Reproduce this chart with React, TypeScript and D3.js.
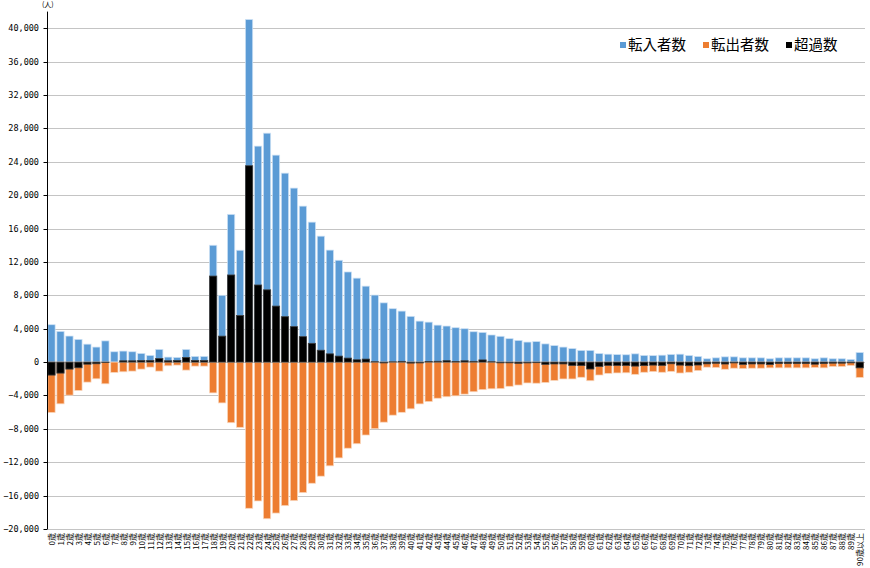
import React from "react";
import * as d3 from "d3";

const ages: string[] = [
  ...Array.from({ length: 90 }, (_, i) => `${i}歳`),
  "90歳以上",
];

const inflow: number[] = [
  4480, 3680, 3120, 2720, 2150, 1800, 2540, 1240, 1320, 1240,
  1040, 800, 1520, 600, 560, 1520, 680, 680, 14000, 8000,
  17700, 13400, 41050, 25880, 27430, 24800, 22640, 20850, 18690, 16770,
  15090, 13420, 12200, 10800, 10060, 9100, 8030, 7100, 6400, 6110,
  5480, 4910, 4790, 4430, 4320, 4120, 4000, 3640, 3560, 3250,
  3090, 2810, 2600, 2400, 2460, 2180, 1980, 1800, 1620, 1400,
  1400, 1030, 950, 900, 880, 990, 800, 780, 830, 920,
  950, 790, 670, 400, 510, 630, 630, 510, 510, 510,
  400, 510, 510, 510, 510, 400, 510, 400, 400, 320,
  1150,
];

const outflow: number[] = [
  -6040, -5000, -3960, -3400, -2400, -2000, -2600, -1240, -1160, -1080,
  -840, -600, -1080, -440, -360, -960, -480, -480, -3690, -4890,
  -7260, -7820, -17520, -16640, -18770, -18090, -17200, -16600, -15640, -14520,
  -13670, -12430, -11480, -10320, -9780, -8740, -7980, -7200, -6360, -6020,
  -5600, -5010, -4730, -4330, -4150, -4040, -3840, -3550, -3300, -3200,
  -3180, -2900, -2750, -2500, -2530, -2450, -2200, -2020, -2020, -1820,
  -2230, -1550, -1350, -1300, -1280, -1470, -1220, -1140, -1220, -1120,
  -1310, -1220, -1020, -610, -650, -860, -730, -780, -730, -730,
  -690, -690, -690, -690, -690, -650, -690, -530, -530, -410,
  -1840,
];

const net: number[] = [
  -1560, -1320, -840, -680, -250, -200, -60, 0, 160, 160,
  200, 200, 440, 160, 200, 560, 200, 200, 10310, 3110,
  10440, 5580, 23530, 9240, 8660, 6710, 5440, 4250, 3050, 2250,
  1420, 990, 720, 480, 280, 360, 50, -100, 40, 90,
  -120, -100, 60, 100, 170, 80, 160, 90, 260, 50,
  -90, -90, -150, -100, -70, -270, -220, -220, -400, -420,
  -830, -520, -400, -400, -400, -480, -420, -360, -390, -200,
  -360, -430, -350, -210, -140, -230, -100, -270, -220, -220,
  -290, -180, -180, -180, -180, -250, -180, -130, -130, -90,
  -690,
];

const yTicks: number[] = [
  -20000, -16000, -12000, -8000, -4000, 0, 4000, 8000, 12000, 16000,
  20000, 24000, 28000, 32000, 36000, 40000,
];

const seriesNames = ["転入者数", "転出者数", "超過数"];
const seriesColors = ["#5B9BD5", "#ED7D31", "#000000"];

const W = 870;
const H = 568;

export default function App() {
  const x = d3
    .scaleBand<string>()
    .domain(ages)
    .range([47, 864.2])
    .paddingInner(0.19)
    .paddingOuter(0.095);
  const y = d3.scaleLinear().domain([-20000, 42000]).range([529, 11.6]);
  const fmt = d3.format(",");
  const axisX = 47.5;
  const gridRight = 865;
  const bw = x.bandwidth();

  const bar = (vals: number[], color: string, stroke: string) =>
    vals.map((v, i) => {
      const y0 = y(0);
      const y1 = y(v);
      const top = Math.min(y0, y1);
      const h = Math.abs(y1 - y0);
      if (h < 0.01) return null;
      return (
        <rect
          key={i}
          x={x(ages[i])!}
          y={top}
          width={bw}
          height={h}
          fill={color}
          stroke={stroke}
          strokeWidth={0.8}
        />
      );
    });

  const legendX = [620, 703, 786];

  return (
    <svg
      width={W}
      height={H}
      style={{ position: "absolute", left: 0, top: 0, background: "#fff" }}
      fontFamily="'Noto Sans CJK JP', 'Noto Sans', sans-serif"
    >
      <rect x={0} y={0} width={W} height={H} fill="#fff" />
      {yTicks.map((t) => (
        <line
          key={t}
          x1={axisX}
          x2={gridRight}
          y1={Math.round(y(t)) + 0.5}
          y2={Math.round(y(t)) + 0.5}
          stroke="#c4c4c4"
          strokeWidth={1}
        />
      ))}
      <g>{bar(inflow, seriesColors[0], "rgba(205,225,245,0.9)")}</g>
      <g>{bar(outflow, seriesColors[1], "rgba(250,215,190,0.9)")}</g>
      <g>{bar(net, seriesColors[2], "#404040")}</g>
      <line x1={axisX} x2={axisX} y1={y(42000)} y2={y(-20000)} stroke="#000" strokeWidth={1} />
      {yTicks.map((t) => (
        <g key={"t" + t}>
          <line
            x1={axisX - 4}
            x2={axisX}
            y1={Math.round(y(t)) + 0.5}
            y2={Math.round(y(t)) + 0.5}
            stroke="#000"
          />
          <text
            x={39}
            y={y(t)}
            dy="0.35em"
            textAnchor="end"
            fontSize={8.5}
            fontFamily="'DejaVu Sans Mono', monospace"
            fill="#000"
          >
            {fmt(t)}
          </text>
        </g>
      ))}
      <text x={42} y={7} fontSize={7} fill="#000">
        (人)
      </text>
      {ages.map((a) => {
        const cx = x(a)! + bw / 2;
        return (
          <text
            key={a}
            transform={`translate(${cx},533) rotate(-90)`}
            textAnchor="end"
            dominantBaseline="central"
            fontSize={8}
            fill="#000"
          >
            {a}
          </text>
        );
      })}
      <g>
        {seriesNames.map((n, i) => (
          <g key={n}>
            <rect x={legendX[i]} y={42} width={6} height={6} fill={seriesColors[i]} />
            <text x={legendX[i] + 8} y={45} dy="0.36em" fontSize={14.5} fill="#000">
              {n}
            </text>
          </g>
        ))}
      </g>
    </svg>
  );
}
